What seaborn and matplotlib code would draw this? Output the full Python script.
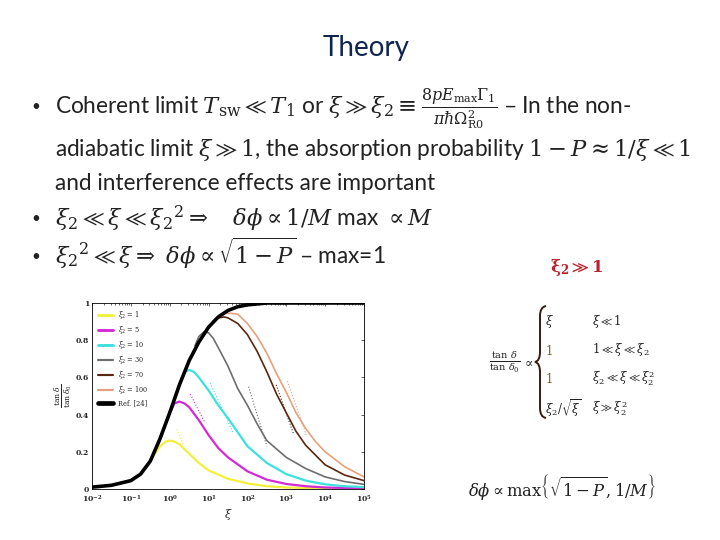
"""Slide recreation: Theory (coherent limit) with embedded tan(delta) plot."""

import matplotlib
matplotlib.use("Agg")
import matplotlib.pyplot as plt
import seaborn as sns
import pandas as pd
import numpy as np
from matplotlib.path import Path
from matplotlib.patches import PathPatch

sns.set_style("white")
plt.rcParams['font.family'] = ['Lato', 'DejaVu Sans']
plt.rcParams['mathtext.fontset'] = 'dejavuserif'

# ---- data (log10 xi -> tan d / tan d0) ----
ref_logx = [-2, -1.5, -1, -0.75, -0.5, -0.25, 0, 0.25, 0.5, 0.75, 1, 1.25, 1.5, 1.75, 2, 2.5, 3, 4, 5]
ref_vals = [0.01, 0.02, 0.045, 0.08, 0.15, 0.27, 0.41, 0.56, 0.69, 0.79, 0.87, 0.925, 0.96, 0.98,
            0.99, 1.0, 1.0, 1.0, 1.0]

y1_logx = [-0.45, -0.25, -0.1, 0, 0.12, 0.25, 0.5, 0.75, 1, 1.5, 2, 2.5, 3, 4, 5]
y1_vals = [0.17, 0.23, 0.255, 0.26, 0.255, 0.24, 0.19, 0.14, 0.10, 0.055, 0.03, 0.015, 0.008, 0.003, 0.001]

y5_logx = [0.03, 0.12, 0.25, 0.38, 0.5, 0.75, 1, 1.25, 1.5, 2, 2.5, 3, 3.5, 4, 5]
y5_vals = [0.42, 0.46, 0.47, 0.46, 0.44, 0.37, 0.29, 0.22, 0.17, 0.095, 0.05, 0.027, 0.015, 0.008, 0.003]

y10_logx = [0.3, 0.38, 0.5, 0.62, 0.75, 1, 1.25, 1.5, 2, 2.5, 3, 3.5, 4, 4.5, 5]
y10_vals = [0.59, 0.63, 0.64, 0.63, 0.60, 0.53, 0.45, 0.38, 0.23, 0.14, 0.08, 0.045, 0.025, 0.015, 0.01]

y30_logx = [0.65, 0.75, 0.88, 1, 1.12, 1.25, 1.5, 1.75, 2, 2.25, 2.5, 3, 3.5, 4, 4.5, 5]
y30_vals = [0.77, 0.82, 0.845, 0.84, 0.81, 0.76, 0.66, 0.54, 0.45, 0.35, 0.26, 0.17, 0.11, 0.065, 0.04, 0.025]

y70_logx = [1.1, 1.25, 1.4, 1.5, 1.75, 2, 2.25, 2.5, 2.75, 3, 3.25, 3.5, 4, 4.5, 5]
y70_vals = [0.90, 0.92, 0.925, 0.92, 0.89, 0.83, 0.74, 0.63, 0.51, 0.41, 0.31, 0.235, 0.13, 0.075, 0.045]

y100_logx = [1.25, 1.4, 1.55, 1.75, 2, 2.25, 2.5, 2.75, 3, 3.25, 3.5, 3.75, 4, 4.5, 5]
y100_vals = [0.93, 0.943, 0.945, 0.94, 0.89, 0.82, 0.73, 0.62, 0.52, 0.41, 0.325, 0.255, 0.20, 0.12, 0.065]

# short dotted asymptotes (start / end)
asym_logx = [[0.19, 0.36], [0.53, 0.91], [1.04, 1.64], [2.03, 2.5], [2.74, 3.18], [3.03, 3.53]]
asym_vals = [[0.32, 0.23], [0.51, 0.355], [0.57, 0.30], [0.55, 0.23], [0.56, 0.30], [0.58, 0.28]]

series_labels = [r"$\xi_2$ = 1", r"$\xi_2$ = 5", r"$\xi_2$ = 10", r"$\xi_2$ = 30",
                 r"$\xi_2$ = 70", r"$\xi_2$ = 100", "Ref. [24]"]
series_colors = ["#F2F03C", "#D42AD4", "#3EE0E0", "#6E6E6E", "#5A2810", "#E8A07C", "black"]
series_widths = [1.6, 1.6, 1.6, 1.2, 1.2, 1.2, 2.6]
series_logx = [y1_logx, y5_logx, y10_logx, y30_logx, y70_logx, y100_logx, ref_logx]
series_vals = [y1_vals, y5_vals, y10_vals, y30_vals, y70_vals, y100_vals, ref_vals]

W, H = 720, 540
fig = plt.figure(figsize=(7.2, 5.4), dpi=100)
fig.patch.set_facecolor("white")


def px(x, y):
    return x / W, 1 - y / H


TXT = "#222222"

# ---- title and bullets ----
fig.text(*px(366, 56), "Theory", fontsize=20, color="#0F2550", ha="center", va="baseline")

bullet_x, text_x, fs = 31, 55, 16.3
lines = [
    (114, True, r"Coherent limit $T_{\mathrm{sw}} \ll T_1$ or $\xi \gg \xi_2 \equiv "
                r"\frac{8pE_{\mathrm{max}}\Gamma_1}{\pi\hbar\Omega_{\mathrm{R0}}^2}$ – In the non-"),
    (156, False, r"adiabatic limit $\xi \gg 1$, the absorption probability $1 - P \approx 1/\xi \ll 1$"),
    (190, False, "and interference effects are important"),
    (226, True, r"$\xi_2 \ll \xi \ll {\xi_2}^2 \Rightarrow\quad \delta\phi \propto 1/M$ max $\propto M$"),
    (264, True, r"${\xi_2}^2 \ll \xi \Rightarrow\ \delta\phi \propto \sqrt{1 - P}$ – max=1"),
]
for yb, has_bullet, s in lines:
    if has_bullet:
        fig.text(*px(bullet_x, yb - 3), "•", fontsize=11, color=TXT, va="baseline")
    fig.text(*px(text_x, yb), s, fontsize=fs, color=TXT, va="baseline")

# ---- embedded plot ----
x0, x1, y0, y1 = 92, 364, 303, 489
ax = fig.add_axes([x0 / W, 1 - y1 / H, (x1 - x0) / W, (y1 - y0) / H])
for lx, v, lab, col, lw in zip(series_logx, series_vals, series_labels, series_colors, series_widths):
    df = pd.DataFrame({"xi": 10.0 ** np.array(lx), "val": v})
    sns.lineplot(data=df, x="xi", y="val", ax=ax, color=col, lw=lw, label=lab,
                 zorder=5 if col == "black" else 3)
for lx, v, col in zip(asym_logx, asym_vals, series_colors[:6]):
    ax.plot(10.0 ** np.array(lx), v, color=col, lw=0.8, ls=":", zorder=2)

ax.set_xscale("log")
ax.set_xlim(1e-2, 1e5)
ax.set_ylim(0, 1)
ax.set_xticks([10.0 ** k for k in range(-2, 6)])
ax.set_yticks([0, 0.2, 0.4, 0.6, 0.8, 1])
ax.set_yticklabels(["0", "0.2", "0.4", "0.6", "0.8", "1"])
ax.tick_params(axis="both", which="both", direction="in", top=True, right=True,
               labelsize=5.5, length=2.5, width=0.5, pad=2)
ax.tick_params(axis="x", which="major", pad=3.5)
ax.tick_params(which="minor", length=1.5)
for lab in ax.get_xticklabels() + ax.get_yticklabels():
    lab.set_fontfamily("serif")
    lab.set_fontweight("bold")
for sp in ax.spines.values():
    sp.set_linewidth(0.6)
    sp.set_color("black")
ax.set_xlabel(r"$\xi$", fontsize=8, labelpad=1)
ax.set_ylabel(r"$\frac{\tan\delta}{\tan\delta_0}$", fontsize=8, labelpad=1)
leg = ax.legend(loc="upper left", frameon=False, handlelength=2.2,
                labelspacing=0.45, borderaxespad=0.5, prop={"family": "serif", "size": 4.8})
for h in leg.get_lines():
    h.set_linewidth(h.get_linewidth() * 1.3)

# ---- right-hand side formulas ----
fig.text(*px(577, 268), r"$\mathbf{\xi_2 \gg 1}$", fontsize=12, color="#C0202A", ha="center",
         va="center")
fig.text(*px(505, 362), r"$\frac{\tan\,\delta}{\tan\,\delta_0}$", fontsize=10,
         color=TXT, ha="center", va="center")
fig.text(*px(528, 362), r"$\propto$", fontsize=9, color=TXT, ha="center", va="center")

# curly brace drawn as a path in pixel space
brace_pts = [(546, 306), (540, 307), (540, 316), (540, 352), (540, 361), (535, 362),
             (540, 363), (540, 372), (540, 408), (540, 417), (546, 418)]
brace_codes = [Path.MOVETO, Path.CURVE3, Path.CURVE3, Path.LINETO, Path.CURVE3, Path.CURVE3,
               Path.CURVE3, Path.CURVE3, Path.LINETO, Path.CURVE3, Path.CURVE3]
brace = Path([px(x, y) for x, y in brace_pts], brace_codes)
fig.patches.append(PathPatch(brace, transform=fig.transFigure, fill=False,
                             edgecolor="#3A1A10", lw=1.4))

case_rows = [(322, r"$\xi$", r"$\xi \ll 1$"),
             (350, r"$1$", r"$1 \ll \xi \ll \xi_2$"),
             (378, r"$1$", r"$\xi_2 \ll \xi \ll \xi_2^2$"),
             (408, r"$\xi_2/\sqrt{\xi}$", r"$\xi \gg \xi_2^2$")]
for yc, left, right in case_rows:
    c = "#7A5A20" if left == r"$1$" else TXT
    fig.text(*px(545, yc), left, fontsize=8.5, color=c, ha="left", va="center")
    fig.text(*px(592, yc), right, fontsize=8.5, color=TXT, ha="left", va="center")

fig.text(*px(468, 487), r"$\delta\phi \propto \max\left\{\sqrt{1-P}, 1/M\right\}$",
         fontsize=11.8, color=TXT, ha="left", va="center")

fig.savefig("out.png", dpi=100, facecolor="white")
